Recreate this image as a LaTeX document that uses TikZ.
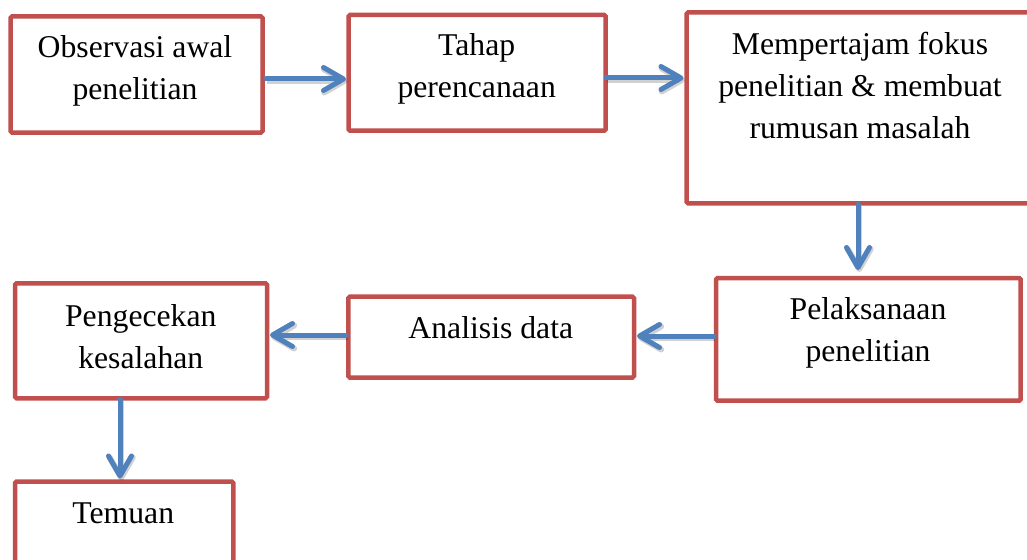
\documentclass[tikz,border=0pt]{standalone}
\usepackage{fontspec}
\setmainfont{Liberation Serif}
\usetikzlibrary{arrows.meta}
\definecolor{boxred}{HTML}{C0504D}
\definecolor{arrblue}{HTML}{4F81BD}
\tikzset{
  box/.style={draw=boxred, line width=4.5pt, rounded corners=1.5pt, inner sep=0pt, outer sep=0pt, fill=white},
  lbl/.style={anchor=base, align=center, inner sep=0pt, font=\fontsize{31.7pt}{42pt}\selectfont},
  arr/.style={draw=arrblue, line width=5pt, line cap=round,
    -{Straight Barb[length=20pt, width=23pt, line cap=round, line join=round]},
    preaction={draw=black, opacity=0.18, line width=6pt, transform canvas={shift={(1.2pt,-2pt)}}}}
}
\begin{document}
\begin{tikzpicture}[x=1pt, y=-1pt]
\useasboundingbox (0,0) rectangle (1027,559);
% boxes
\node[box, minimum width=252pt, minimum height=116pt] (obs) at (136.5,74.5) {};
\node[box, minimum width=257.2pt, minimum height=115.7pt] (tah) at (477.1,72.85) {};
\node[box, minimum width=347.5pt, minimum height=190.8pt] (mem) at (860.25,107.9) {};
\node[box, minimum width=304.7pt, minimum height=122.7pt] (pel) at (868.35,339.35) {};
\node[box, minimum width=285.7pt, minimum height=80.8pt] (ana) at (491.15,337.1) {};
\node[box, minimum width=252pt, minimum height=115pt] (pen) at (141,340.8) {};
\node[box, minimum width=218.3pt, minimum height=116pt] (tem) at (124.15,539.5) {};
% labels (base anchor = baseline of the last line)
\node[lbl] (obst) at (135,99.5) {Observasi awal\\penelitian};
\node[lbl] (taht) at (476.7,98) {Tahap\\perencanaan};
\node[lbl] (memt) at (860,138.5) {Mempertajam fokus\\penelitian \& membuat\\rumusan masalah};
\node[lbl] (pelt) at (868,361.5) {Pelaksanaan\\penelitian};
\node[lbl] (anat) at (490.8,338.3) {Analisis data};
\node[lbl] (pent) at (140.8,368) {Pengecekan\\kesalahan};
\node[lbl] (temt) at (123.3,523.3) {Temuan};
% arrows
\draw[arr] (obs.east |- 0,79) ++(3.5,0) -- ([xshift=-2.5pt]tah.west |- 0,79);
\draw[arr] (tah.east |- 0,78) ++(0.5,0) -- ([xshift=-3pt]mem.west |- 0,78);
\draw[arr] (mem.south -| 858,0) ++(0,1) -- ([yshift=8pt]pel.north -| 858,0);
\draw[arr] (pel.west |- 0,336) ++(-2,0) -- ([xshift=3pt]ana.east |- 0,336);
\draw[arr] (ana.west |- 0,335) ++(-2,0) -- ([xshift=3pt]pen.east |- 0,335);
\draw[arr] (pen.south -| 120,0) ++(0,1) -- ([yshift=3pt]tem.north -| 120,0);
\end{tikzpicture}
\end{document}
